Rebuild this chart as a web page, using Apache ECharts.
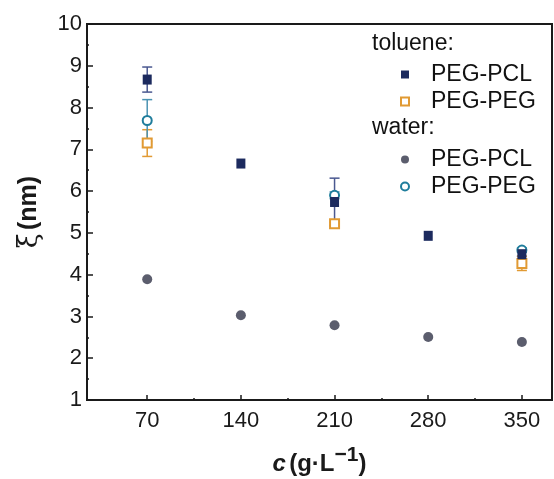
<!DOCTYPE html>
<html>
<head>
<meta charset="utf-8">
<script src="https://cdn.jsdelivr.net/npm/echarts@6/dist/echarts.min.js"></script>
<style>
html,body{margin:0;padding:0;background:#fff;}
#chart{width:554px;height:479px;}
</style>
</head>
<body>
<div id="chart"></div>
<script>
// ---- data ----
const xTicks = [70, 140, 210, 280, 350];
const xMinorTicks = [105, 175, 245, 315];
const concAll = [70, 140, 210, 280, 350];
const concPEG = [70, 210, 350];

const toluenePCL = [8.67, 6.66, 5.74, 4.93, 4.49];
const toluenePCLErr = [0.30, 0, 0.57, 0, 0.05];
const toluenePEG = [7.15, 5.22, 4.27];
const toluenePEGErr = [0.32, 0.03, 0.17];
const waterPCL = [3.89, 3.03, 2.79, 2.51, 2.39];
const waterPEG = [7.69, 5.90, 4.59];
const waterPEGErr = [0.50, 0.08, 0.05];

// ---- styles ----
const FONT = 'Liberation Sans, Arial, sans-serif';
const C_NAVY = '#1c2a5e';
const C_NAVY_ERR = '#4a5890';
const C_ORANGE = '#e19a33';
const C_TEAL = '#1f7d9c';
const C_TEAL_ERR = '#4b93b2';
const C_GRAY = '#5b5d6d';

function pts(xs, ys) { return xs.map((x, i) => [x, ys[i]]); }
function errPts(xs, ys, es) { return xs.map((x, i) => [x, ys[i], es[i]]); }

function errSeries(data, color) {
  return {
    type: 'custom',
    silent: true,
    data: data,
    encode: { x: 0, y: 1 },
    renderItem: function (params, api) {
      const x = api.value(0), y = api.value(1), e = api.value(2);
      if (!e) return null;
      const top = api.coord([x, y + e]);
      const bot = api.coord([x, y - e]);
      const hw = 5;
      const st = { stroke: color, lineWidth: 1.5 };
      return {
        type: 'group',
        children: [
          { type: 'line', shape: { x1: top[0], y1: top[1], x2: bot[0], y2: bot[1] }, style: st },
          { type: 'line', shape: { x1: top[0] - hw, y1: top[1], x2: top[0] + hw, y2: top[1] }, style: st },
          { type: 'line', shape: { x1: bot[0] - hw, y1: bot[1], x2: bot[0] + hw, y2: bot[1] }, style: st }
        ]
      };
    }
  };
}

const chart = echarts.init(document.getElementById('chart'), null, { renderer: 'canvas' });

const legendText = {
  fontFamily: FONT, fontSize: 23, color: '#111',
  padding: [0, 0, 0, 17]
};

const option = {
  backgroundColor: '#fff',
  animation: false,
  textStyle: { fontFamily: FONT },
  grid: {
    left: 87, right: 2, top: 24, bottom: 79,
    outerBoundsMode: 'none', containLabel: false,
    show: true, borderColor: '#1a1a1a', borderWidth: 2, backgroundColor: 'transparent'
  },
  xAxis: [{
    type: 'value', min: 25, max: 372.5,
    axisLine: { show: true, lineStyle: { color: '#1a1a1a', width: 2 } },
    axisTick: { show: true, inside: true, length: 5, customValues: xTicks, lineStyle: { color: '#1a1a1a', width: 1.5 } },
    axisLabel: { show: true, customValues: xTicks, margin: 10, fontSize: 22, color: '#1a1a1a', fontFamily: FONT },
    splitLine: { show: false },
    name: '{i|c} {b|(g·L}{s|−1}{b|)}',
    nameLocation: 'middle',
    nameGap: 45,
    nameTextStyle: {
      rich: {
        i: { fontFamily: FONT, fontSize: 24, fontWeight: 'bold', fontStyle: 'italic', color: '#1a1a1a', verticalAlign: 'bottom' },
        b: { fontFamily: FONT, fontSize: 24, fontWeight: 'bold', color: '#1a1a1a', verticalAlign: 'bottom' },
        s: { fontFamily: FONT, fontSize: 21, fontWeight: 'bold', color: '#1a1a1a', verticalAlign: 'top', padding: [0, 0, 10, 0] }
      }
    }
  }, {
    type: 'value', min: 25, max: 372.5, position: 'bottom', gridIndex: 0,
    axisLine: { show: false },
    axisTick: { show: true, inside: true, length: 2, customValues: xMinorTicks, lineStyle: { color: '#1a1a1a', width: 1.5 } },
    axisLabel: { show: false },
    splitLine: { show: false }
  }],
  yAxis: {
    type: 'value', min: 1, max: 10, interval: 1,
    axisLine: { show: true, lineStyle: { color: '#1a1a1a', width: 2 } },
    axisTick: { show: true, inside: true, length: 6, lineStyle: { color: '#1a1a1a', width: 1.5 } },
    minorTick: { show: true, splitNumber: 2, length: 2, lineStyle: { color: '#1a1a1a', width: 1.5 } },
    axisLabel: { margin: 5, fontSize: 22, color: '#1a1a1a', fontFamily: FONT },
    splitLine: { show: false },
    name: '{x|ξ} {b|(nm)}',
    nameLocation: 'middle',
    nameGap: 44,
    nameTextStyle: {
      rich: {
        x: { fontFamily: 'DejaVu Serif, serif', fontSize: 27, color: '#1a1a1a' },
        b: { fontFamily: FONT, fontSize: 25, fontWeight: 'bold', color: '#1a1a1a' }
      }
    }
  },
  legend: [{
    orient: 'vertical', left: 395, top: 58, itemWidth: 8, itemHeight: 8, itemGap: 4,
    data: ['toluene PEG-PCL', 'toluene PEG-PEG'],
    formatter: n => n.replace(/^\S+ /, ''),
    textStyle: legendText
  }, {
    orient: 'vertical', left: 395, top: 143, itemWidth: 8, itemHeight: 8, itemGap: 4,
    data: ['water PEG-PCL', 'water PEG-PEG'],
    formatter: n => n.replace(/^\S+ /, ''),
    textStyle: legendText
  }],
  graphic: [
    { type: 'text', left: 372, top: 32, style: { text: 'toluene:', fontFamily: FONT, fontSize: 23, fill: '#111' } },
    { type: 'text', left: 372, top: 116, style: { text: 'water:', fontFamily: FONT, fontSize: 23, fill: '#111' } }
  ],
  series: [
    errSeries(errPts(concAll, toluenePCL, toluenePCLErr), C_NAVY_ERR),
    errSeries(errPts(concPEG, toluenePEG, toluenePEGErr), C_ORANGE),
    errSeries(errPts(concPEG, waterPEG, waterPEGErr), C_TEAL_ERR),
    {
      name: 'toluene PEG-PEG', type: 'scatter', data: pts(concPEG, toluenePEG),
      symbol: 'rect', symbolSize: 9,
      itemStyle: { color: '#fff', borderColor: C_ORANGE, borderWidth: 2, opacity: 1 }
    },
    {
      name: 'water PEG-PEG', type: 'scatter', data: pts(concPEG, waterPEG),
      symbol: 'circle', symbolSize: 9,
      itemStyle: { color: '#fff', borderColor: C_TEAL, borderWidth: 2, opacity: 1 }
    },
    {
      name: 'toluene PEG-PCL', type: 'scatter', data: pts(concAll, toluenePCL),
      symbol: 'rect', symbolSize: [9, 10],
      itemStyle: { color: C_NAVY, opacity: 1 }
    },
    {
      name: 'water PEG-PCL', type: 'scatter', data: pts(concAll, waterPCL),
      symbol: 'circle', symbolSize: 10,
      itemStyle: { color: C_GRAY, opacity: 1 }
    }
  ]
};

chart.setOption(option);
</script>
</body>
</html>
